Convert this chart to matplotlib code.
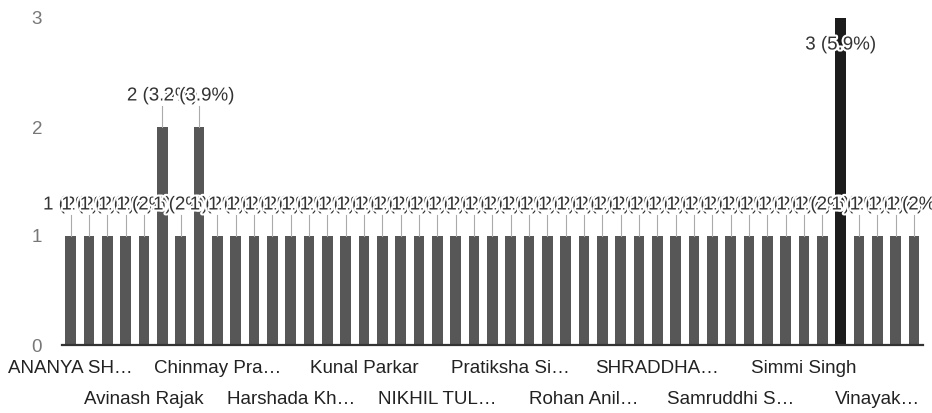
import matplotlib
matplotlib.use("Agg")
import matplotlib.pyplot as plt
import matplotlib.patheffects as pe

plt.rcParams['font.family'] = ['Liberation Sans', 'DejaVu Sans']

# 47 respondents; only every 4th name is printed on the axis in the reference
names = [
    "ANANYA SH…", "", "", "", "Avinash Rajak", "", "", "", "Chinmay Pra…", "", "", "",
    "Harshada Kh…", "", "", "", "Kunal Parkar", "", "", "", "NIKHIL TUL…", "", "", "",
    "Pratiksha Si…", "", "", "", "Rohan Anil…", "", "", "", "SHRADDHA…", "", "", "",
    "Samruddhi S…", "", "", "", "Simmi Singh", "", "", "", "Vinayak…", "", "",
]
counts = [1, 1, 1, 1, 1, 2, 1, 2, 1, 1, 1, 1, 1, 1, 1, 1,
          1, 1, 1, 1, 1, 1, 1, 1, 1, 1, 1, 1, 1, 1, 1, 1,
          1, 1, 1, 1, 1, 1, 1, 1, 1, 1, 3, 1, 1, 1, 1]
y_ticks = [0, 1, 2, 3]

W, H = 932, 413
fig = plt.figure(figsize=(W / 100, H / 100), dpi=100)
left_px, right_px, top_px, base_px = 61.5, 923.2, 18, 345
ax = fig.add_axes([left_px / W, (H - base_px) / H,
                   (right_px - left_px) / W, (base_px - top_px) / H])

n = len(counts)
x = list(range(n))
total = sum(counts)
ymax = max(y_ticks)
colors = ['#1c1c1c' if v == max(counts) else '#575757' for v in counts]
ax.bar(x, counts, width=0.58, color=colors, zorder=2)

ax.set_xlim(-0.5, n - 0.5)
ax.set_ylim(0, ymax)
for s in ax.spines.values():
    s.set_visible(False)
ax.axhline(0, color='#333333', lw=1.6, zorder=3, clip_on=False)

ax.set_yticks(y_ticks)
ax.set_yticklabels([str(t) for t in y_ticks], fontsize=13.5, color='#777777')
ax.tick_params(axis='y', length=0, pad=14)
ax.set_xticks([])

# data labels with Google-style white aura
px_per_unit = (base_px - top_px) / ymax
for i, v in enumerate(counts):
    pct = f"{v / total * 100:.1f}".rstrip('0').rstrip('.')
    label = f"{v} ({pct}%)"
    above = v + 40 / px_per_unit <= ymax
    if above:
        ax.plot([i, i], [v, v + 21 / px_per_unit], color='#aaaaaa', lw=0.8,
                zorder=4, clip_on=False)
        ty = v + 31 / px_per_unit
    else:
        ty = v - 27 / px_per_unit
    ax.text(i, ty, label, ha='center', va='center', fontsize=13.5,
            color='#333333', zorder=5, clip_on=False,
            path_effects=[pe.withStroke(linewidth=3, foreground='white')])

# staggered category labels
row = 0
for i, name in enumerate(names):
    if not name:
        continue
    off = -16.6 if row % 2 == 0 else -39.6
    ax.annotate(name, xy=(i, 0), xycoords=('data', 'axes fraction'),
                xytext=(0, off), textcoords='offset points',
                ha='center', va='center', fontsize=13.5, color='#222222',
                annotation_clip=False)
    row += 1

fig.savefig('out.png', dpi=100)
